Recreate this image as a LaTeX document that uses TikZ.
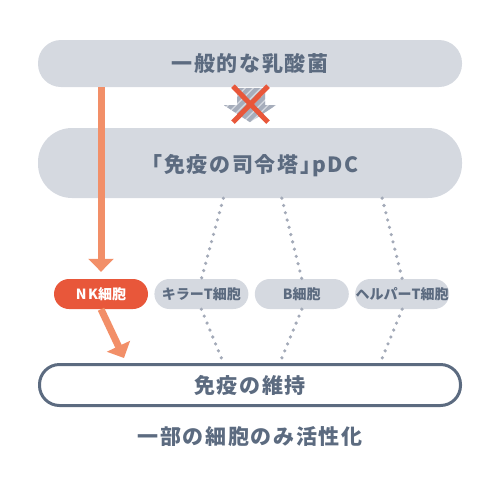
\documentclass[tikz,border=0pt]{standalone}
\usepackage{fontspec}
\setmainfont{Noto Sans CJK JP}
\newfontfamily\jpwide{Noto Sans CJK JP}[LetterSpace=8]
\usepackage{tikz}
\usetikzlibrary{
  arrows.meta,
  positioning,
  chains,
  calc
}
\usepackage{xcolor}
\definecolor{boxGray}{RGB}{213,217,224}
\definecolor{stripeGray}{RGB}{166,173,187}
\definecolor{slate}{RGB}{92,107,128}
\definecolor{dotGray}{RGB}{163,170,184}
\definecolor{nkRed}{RGB}{232,87,58}
\definecolor{arrowSalmon}{RGB}{242,143,104}
\newcommand{\bigfont}{\jpwide\bfseries\fontsize{21}{21}\selectfont}
\newcommand{\cellfont}{\bfseries\fontsize{14}{14}\selectfont}
\tikzset{
  bigbox/.style={
    fill=boxGray,
    text=slate,
    font=\bigfont,
    minimum width=424pt,
    inner sep=0pt
  },
  cellbox/.style={
    fill=boxGray,
    text=slate,
    font=\cellfont,
    minimum width=94pt,
    minimum height=30pt,
    inner sep=0pt,
    rounded corners=15pt
  }
}

\begin{document}
\begin{tikzpicture}[
      x=1pt, y=-1pt,
      dotline/.style={
        dotGray,
        line width=3.6pt,
        line cap=round,
        dash pattern=on 0pt off 7.5pt
      },
      nkarrow/.style={
        arrowSalmon,
        line width=7pt,
        -{Triangle[width=25pt,length=13pt]}
      },
      node distance=6pt,
      start chain
      ]
      \useasboundingbox (0,0) rectangle (490,480);

      \node[bigbox, minimum height=47pt, rounded corners=23pt] (top) at (250,63.5) {一般的な乳酸菌};
      \node[bigbox, minimum height=70pt, rounded corners=34pt] (pdc) at (250,163) {};
      \node[text=slate, font=\bigfont] (pdcText) at (250,166) {「免疫の司令塔」\kern-9pt pDC};

      % blocked path
      \begin{scope}[shift={(top.south)}]
        \begin{scope}
          \clip (-13,1) -- (15,1) -- (15,18) -- (26,18) -- (0,35) -- (-26,18) -- (-13,18) -- cycle;
          \fill[boxGray] (-30,0) rectangle (30,36);
          \foreach \s in {-64,-56,...,32}{
            \draw[stripeGray, line width=4pt] (\s,40) -- ++(44,-44);
          }
        \end{scope}
        \draw[nkRed, line width=5pt] (-17,-1) -- (18,35);
        \draw[nkRed, line width=5pt] (18,-1) -- (-17,35);
      \end{scope}

      \node[cellbox, fill=nkRed, text=white, on chain] (nk) at (101,294) {N\kern1.5pt K細胞};
      \foreach \name/\txt in {killer/キラーT細胞, bcell/B細胞, helper/ヘルパーT細胞}{
        \node[cellbox, on chain] (\name) {\txt};
      }

      \node[draw=slate, line width=3pt, fill=white, text=slate, font=\bigfont,
        minimum width=421pt, minimum height=41pt, rounded corners=20pt] (keep) at (250,385) {免疫の維持};
      \node[text=slate, font=\bigfont] (note) at (250,437) {一部の細胞のみ活性化};

      \foreach \name/\up/\down in {killer/22/22, bcell/-20/-22, helper/-20/-22}{
        \draw[dotline] ([xshift=\up pt]\name.north |- pdc.south) -- (\name.north);
        \draw[dotline] (\name.south) -- ([xshift=\down pt]\name.south |- keep.north);
      }

      \coordinate (nkTip) at (124,358);
      \draw[nkarrow, shorten >=7pt] (top.south -| nk.north) -- (nk.north);
      \draw[nkarrow] (nk.south) -- (nkTip);
    \end{tikzpicture}
\end{document}
